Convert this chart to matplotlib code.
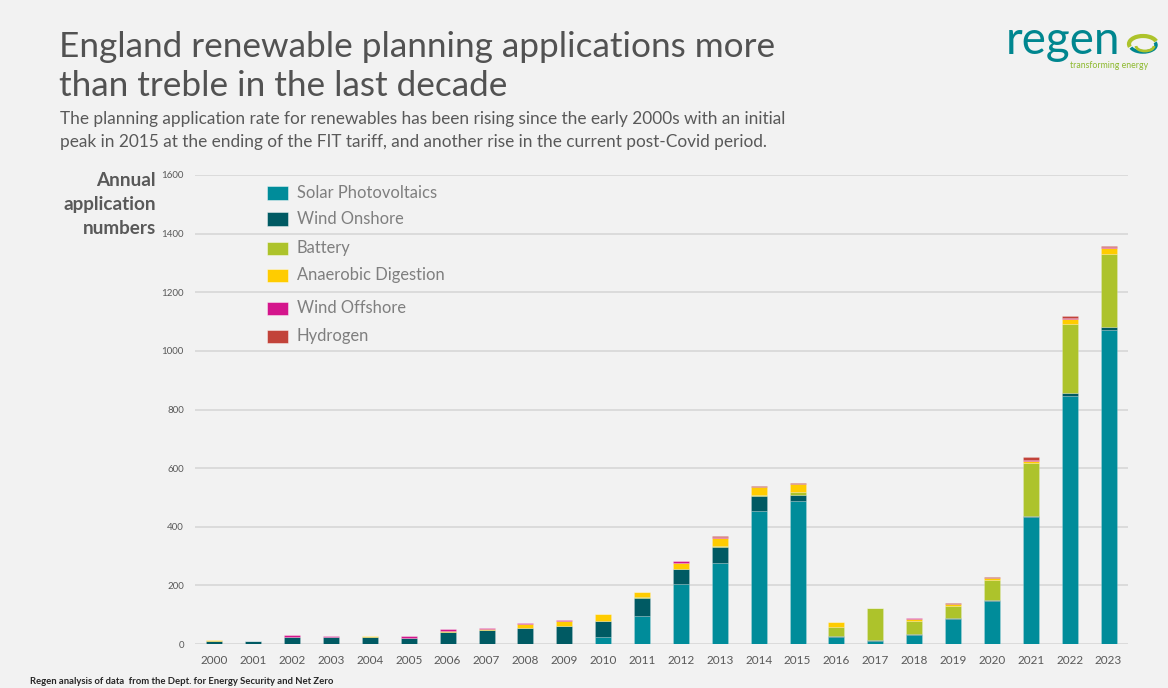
import matplotlib
matplotlib.use("Agg")
import matplotlib.pyplot as plt
import numpy as np
from matplotlib.patches import Rectangle, Arc

plt.rcParams['font.family'] = ['Lato', 'DejaVu Sans']

years = [str(y) for y in range(2000, 2024)]
series_names = ["Solar Photovoltaics", "Wind Onshore", "Battery",
                "Anaerobic Digestion", "Wind Offshore", "Hydrogen"]
solar = [0, 0, 0, 0, 0, 0, 0, 0, 0, 0, 25, 96, 203, 276, 454, 488, 23, 10, 29, 85, 148, 432, 847, 1070]
onshore = [11, 10, 25, 24, 25, 22, 42, 47, 53, 61, 54, 62, 52, 54, 50, 22, 4, 3, 4, 2, 3, 6, 10, 10]
battery = [0, 0, 0, 0, 0, 0, 0, 0, 0, 1, 0, 2, 2, 3, 3, 7, 32, 110, 44, 44, 69, 178, 236, 252]
anaerobic = [3, 0, 0, 1, 2, 0, 3, 4, 15, 16, 23, 16, 18, 27, 27, 28, 15, 1, 7, 4, 5, 10, 17, 20]
offshore = [0, 0, 4, 2, 1, 6, 5, 3, 2, 4, 0, 1, 7, 5, 2, 1, 0, 0, 3, 2, 1, 1, 2, 3]
hydrogen = [0, 0, 0, 0, 0, 0, 0, 1, 0, 1, 0, 2, 1, 2, 2, 3, 0, 0, 2, 3, 3, 10, 8, 4]
yticks = [0, 200, 400, 600, 800, 1000, 1200, 1400, 1600]

colors = ["#008C9A", "#005A63", "#ADC32B", "#FFCC00", "#D4158C", "#C2433A"]
BG = "#F2F2F2"
W, H = 1168, 688

def fx(px):
    return px / W

def fy(py):
    return 1 - py / H

fig = plt.figure(figsize=(W / 100, H / 100), dpi=100, facecolor=BG)
ax = fig.add_axes([fx(195), fy(644), fx(1128) - fx(195), fy(175) - fy(644)], facecolor=BG)

x = np.arange(len(years))
bottom = np.zeros(len(years))
for vals, col in zip([solar, onshore, battery, anaerobic, offshore, hydrogen], colors):
    v = np.array(vals, dtype=float)
    ax.bar(x, v, bottom=bottom, width=0.41, color=col, edgecolor=(1, 1, 1, 0.25),
           linewidth=0.5, zorder=3)
    bottom += v

ax.set_xlim(-0.5, len(years) - 0.5)
ax.set_ylim(0, 1600)
ax.set_yticks(yticks)
ax.set_yticklabels([str(t) for t in yticks])
ax.set_xticks(x)
ax.set_xticklabels(years)
ax.tick_params(axis='both', length=0, colors="#595959")
ax.tick_params(axis='y', labelsize=7, pad=8)
ax.tick_params(axis='x', labelsize=8.5, pad=8)
for s in ax.spines.values():
    s.set_visible(False)
ax.grid(axis='y', color="#D9D9D9", linewidth=1.3, zorder=0)
ax.set_axisbelow(True)

# Titles
fig.text(fx(59), fy(57), "England renewable planning applications more",
         fontsize=25.3, fontweight='normal', color="#525252", va='baseline')
fig.text(fx(59), fy(96), "than treble in the last decade",
         fontsize=25.3, fontweight='normal', color="#525252", va='baseline')
fig.text(fx(60), fy(124), "The planning application rate for renewables has been rising since the early 2000s with an initial",
         fontsize=12.4, color="#595959", va='baseline')
fig.text(fx(60), fy(147), "peak in 2015 at the ending of the FIT tariff, and another rise in the current post-Covid period.",
         fontsize=12.4, color="#595959", va='baseline')

# Y label
fig.text(fx(156), fy(172), "Annual\napplication\nnumbers", fontsize=13.6, fontweight='bold',
         color="#595959", ha='right', va='top', linespacing=1.5)

# Legend (manual)
leg_y = [193, 219, 248, 275, 308, 336]
for name, col, ly in zip(series_names, colors, leg_y):
    fig.patches.append(Rectangle((fx(267), fy(ly + 6.5)), fx(21), fy(ly - 6.5) - fy(ly + 6.5),
                                 transform=fig.transFigure, facecolor=col,
                                 edgecolor=(1, 1, 1, 0.5), linewidth=0.6))
    fig.text(fx(297), fy(ly), name, fontsize=11.9, color="#7F7F7F", va='center')

# Logo
fig.text(fx(1006), fy(54), "regen", fontsize=33, color="#00868F", va='baseline',
         fontweight='normal')
fig.text(fx(1070), fy(68), "transforming energy", fontsize=6.3, color="#8DB92E", va='baseline')
fig.patches.append(Arc((fx(1143), fy(44)), fx(28), fy(36) - fy(52), theta1=20, theta2=200,
                       transform=fig.transFigure, color="#ADC32B", linewidth=3))
fig.patches.append(Arc((fx(1143), fy(45)), fx(26), fy(38) - fy(52), theta1=200, theta2=380,
                       transform=fig.transFigure, color="#00868F", linewidth=2.5))
fig.patches.append(Arc((fx(1145), fy(46)), fx(18), fy(41) - fy(51), theta1=180, theta2=360,
                       transform=fig.transFigure, color="#ADC32B", linewidth=2))

# Footer
fig.text(fx(30), fy(684), "Regen analysis of data  from the Dept. for Energy Security and Net Zero",
         fontsize=6.8, fontweight='bold', color="#262626", va='baseline')

fig.savefig("out.png", dpi=100, facecolor=BG)
